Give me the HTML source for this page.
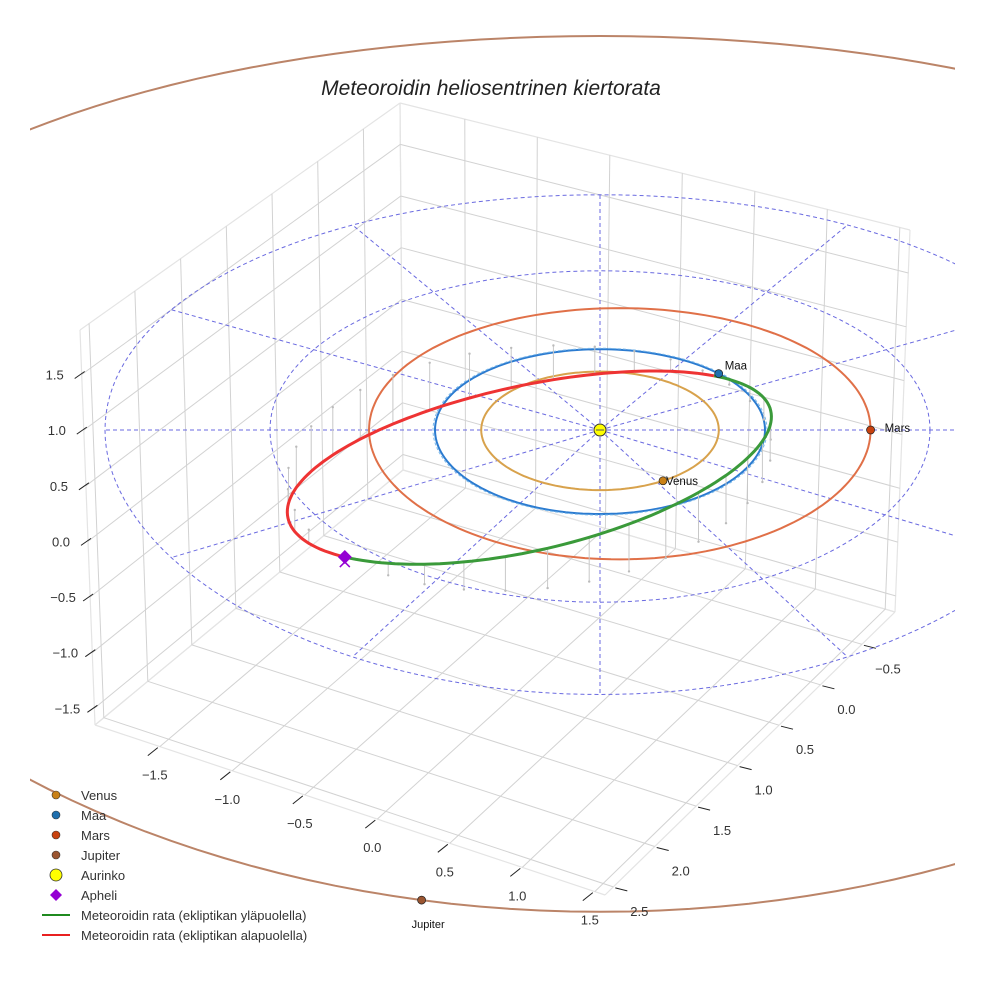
<!DOCTYPE html>
<html><head><meta charset="utf-8">
<style>
html,body{margin:0;padding:0;background:#fff;}
svg{display:block;font-family:"Liberation Sans",sans-serif;}
</style></head>
<body>
<svg id="chart" width="984" height="984" viewBox="0 0 984 984" xmlns="http://www.w3.org/2000/svg">
<defs><clipPath id="clipView"><rect x="30" y="0" width="925" height="984"/></clipPath></defs>
<rect width="984" height="984" fill="#fff"/>
<g id="box"></g>
<g id="ecl" clip-path="url(#clipView)"></g>
<g id="orbits"></g>
<g id="ticks"></g>
<text x="491" y="95" text-anchor="middle" font-size="21" font-style="italic" fill="#222">Meteoroidin heliosentrinen kiertorata</text>
<g id="legend"></g>
</svg>
<script>
// ---- data ----
const xTicks = [-1.5, -1.0, -0.5, 0.0, 0.5, 1.0, 1.5];
const yTicks = [-0.5, 0.0, 0.5, 1.0, 1.5, 2.0, 2.5];
const zTicks = [-1.5, -1.0, -0.5, 0.0, 0.5, 1.0, 1.5];
const planetNames = ["Venus", "Maa", "Mars", "Jupiter"];
const planetRadii = [0.72, 1.0, 1.52, 5.2];
const planetCenterOffsetX = [0.0, 0.0, 0.12, 0.0];
const planetAnglesDeg = [58, -44, 0, 102];
const planetColors = ["#c98118", "#1f6fae", "#c8420f", "#9b5530"];
const orbitColors = ["#d8a24c", "#2b7bd0", "#e07048", "#bb8468"];
const gridCircleRadii = [2, 3];
const gridRayAnglesDeg = [0, 30, 60, 90, 120, 150, 180, 210, 240, 270, 300, 330];
const meteorPerihelion = [0.96];
const meteorAphelion = [2.15];
const meteorInclinationDeg = [18];
const meteorPeriArgDeg = [-44];

// ---- axes limits ----
const xMin = -1.947, xMax = 1.57, yMin = -0.9, yMax = 2.6, zMin = -1.65, zMax = 1.9;

const NS = "http://www.w3.org/2000/svg";
function mk(parent, tag, attrs){const e=document.createElementNS(NS,tag);for(const k in attrs)e.setAttribute(k,attrs[k]);parent.appendChild(e);return e;}
function P(x,y,z){const f=y<0?1+0.0146*y:1+0.025*y;return [600+165*x, 430+82*y*f-111*z];}
function bil(q,s,t){return [(1-t)*((1-s)*q[0][0]+s*q[1][0])+t*((1-s)*q[3][0]+s*q[2][0]),(1-t)*((1-s)*q[0][1]+s*q[1][1])+t*((1-s)*q[3][1]+s*q[2][1])];}
const leftWall=[[80,330],[400,103],[403,470],[95,725]];
const rightWall=[[400,103],[910,230],[895,612],[403,470]];
const floorQ=[[403,470],[895,612],[605,895],[95,725]];
const sx=x=>(x-xMin)/(xMax-xMin), sy=y=>(y-yMin)/(yMax-yMin), tz=z=>(zMax-z)/(zMax-zMin);

const box=document.getElementById('box');
function seg(parent,a,b,col,w,name){const l=mk(parent,'line',{x1:a[0].toFixed(1),y1:a[1].toFixed(1),x2:b[0].toFixed(1),y2:b[1].toFixed(1),stroke:col,'stroke-width':w});


return l;}
[leftWall,rightWall,floorQ].forEach(q=>{for(let i=0;i<4;i++)seg(box,q[i],q[(i+1)%4],'#e4e4e4',1.2,'pane-edge');});
yTicks.forEach(y=>{const s=1-sy(y);seg(box,bil(leftWall,s,0),bil(leftWall,s,1),'#d2d2d2',1,'left-wall-gridline');seg(box,bil(floorQ,0,sy(y)),bil(floorQ,1,sy(y)),'#d2d2d2',1,'floor-gridline-y');});
zTicks.concat([2.0]).forEach(z=>{if(z>zMax)return;const t=tz(z);seg(box,bil(leftWall,0,t),bil(leftWall,1,t),'#d2d2d2',1,'left-wall-gridline-z');seg(box,bil(rightWall,0,t),bil(rightWall,1,t),'#d2d2d2',1,'right-wall-gridline-z');});
xTicks.forEach(x=>{const s=sx(x);seg(box,bil(rightWall,s,0),bil(rightWall,s,1),'#d2d2d2',1,'right-wall-gridline');seg(box,bil(floorQ,s,0),bil(floorQ,s,1),'#d2d2d2',1,'floor-gridline-x');});

const tk=document.getElementById('ticks');
function lab(x,y,txt,name){const t=mk(tk,'text',{x:x.toFixed(1),y:y.toFixed(1),'text-anchor':'middle','font-size':13,fill:'#333'});t.textContent=txt;

}
const fmt=v=>(v<0?'\u2212':'')+Math.abs(v).toFixed(1);
xTicks.forEach(x=>{const p=bil(floorQ,sx(x),1);seg(tk,[p[0]-2,p[1]+1],[p[0]-12,p[1]+9],'#222',1,'x-tick');lab(p[0]-5,p[1]+33,fmt(x),'x-tick-label');});
yTicks.forEach(y=>{const p=bil(floorQ,1,sy(y));seg(tk,[p[0]+2,p[1]+1],[p[0]+14,p[1]+4],'#222',1,'y-tick');lab(p[0]+26,p[1]+29,fmt(y),'y-tick-label');});
zTicks.forEach(z=>{const p=bil(leftWall,0,tz(z));seg(tk,[p[0]+3,p[1]-3],[p[0]-7,p[1]+4],'#222',1,'z-tick');lab(p[0]-27,p[1]+5,fmt(z),'z-tick-label');});

const ecl=document.getElementById('ecl');
function ringPath(r,z,cx){cx=cx||0;let d='';for(let k=0;k<=360;k+=2){const a=k*Math.PI/180;const p=P(cx+r*Math.cos(a),r*Math.sin(a),z||0);d+=(k?'L':'M')+p[0].toFixed(1)+' '+p[1].toFixed(1);}return d;}
gridCircleRadii.forEach(r=>{const e=mk(ecl,'path',{d:ringPath(r),fill:'none',stroke:'#6a6ae0','stroke-width':1,'stroke-dasharray':'4 3'});

});
gridRayAnglesDeg.forEach(g=>{const a=g*Math.PI/180;const c=P(0,0,0);
const rr=(g===0)?6:3.0;const q=P(rr*Math.cos(a),rr*Math.sin(a),0);
const e=mk(ecl,'line',{x1:c[0],y1:c[1],x2:q[0].toFixed(1),y2:q[1].toFixed(1),stroke:'#6a6ae0','stroke-width':1,'stroke-dasharray':'4 3'});

});
const jp=mk(ecl,'path',{d:ringPath(planetRadii[3],0,planetCenterOffsetX[3]),fill:'none',stroke:orbitColors[3],'stroke-width':2});



const orb=document.getElementById('orbits');
for(let i=0;i<3;i++){const e=mk(orb,'path',{d:ringPath(planetRadii[i],0,planetCenterOffsetX[i]),fill:'none',stroke:orbitColors[i],'stroke-width':2});

}
const ed=mk(orb,'path',{d:ringPath(planetRadii[1]*1.012),fill:'none',stroke:'#7ab8ea','stroke-width':1,'stroke-dasharray':'3 2'});



const q=meteorPerihelion[0],Q=meteorAphelion[0],a=(q+Q)/2,e=(Q-q)/(Q+q),b=Math.sqrt(q*Q);
const inc=meteorInclinationDeg[0]*Math.PI/180,w=meteorPeriArgDeg[0]*Math.PI/180;
const u=[Math.cos(w),Math.sin(w)],v=[-Math.sin(w),Math.cos(w)];
function M(E){const c=a*(Math.cos(E)-e),s=b*Math.sin(E);return [u[0]*c+v[0]*s*Math.cos(inc),u[1]*c+v[1]*s*Math.cos(inc),s*Math.sin(inc)];}
for(let k=6;k<360;k+=10){if(Math.abs(k-180)<8)continue;const E=k*Math.PI/180;const m=M(E);const p1=P(m[0],m[1],m[2]),p0=P(m[0],m[1],0);
seg(orb,p1,p0,'#c8c8c8',1,'ecliptic-stem');
const d=mk(orb,'circle',{cx:p0[0].toFixed(1),cy:p0[1].toFixed(1),r:1.2,fill:'#bbb'});

}
function mpath(k0,k1){let d='';for(let k=k0;k<=k1;k+=2){const m=M(k*Math.PI/180);const p=P(m[0],m[1],m[2]);d+=(k===k0?'M':'L')+p[0].toFixed(1)+' '+p[1].toFixed(1);}return d;}
const gp=mk(orb,'path',{d:mpath(0,180),fill:'none',stroke:'#3a9a3a','stroke-width':3});


const rp=mk(orb,'path',{d:mpath(180,360),fill:'none',stroke:'#ee3333','stroke-width':3});


const ap=M(Math.PI),pa=P(ap[0],ap[1],ap[2]);
const dm=mk(orb,'path',{d:`M${pa[0]} ${pa[1]-7}L${pa[0]+7} ${pa[1]}L${pa[0]} ${pa[1]+7}L${pa[0]-7} ${pa[1]}Z`,fill:'#9400d3'});


const xm=mk(orb,'path',{d:`M${pa[0]-5} ${pa[1]}L${pa[0]+5} ${pa[1]+10}M${pa[0]+5} ${pa[1]}L${pa[0]-5} ${pa[1]+10}`,stroke:'#9400d3','stroke-width':1.5});



const labOff=[[3,4],[6,-4],[14,2],[-10,28]];
for(let i=0;i<4;i++){const an=planetAnglesDeg[i]*Math.PI/180;const p=P(planetCenterOffsetX[i]+planetRadii[i]*Math.cos(an),planetRadii[i]*Math.sin(an),0);
const c=mk(orb,'circle',{cx:p[0].toFixed(1),cy:p[1].toFixed(1),r:4,fill:planetColors[i],stroke:'#222','stroke-width':0.7});


const t=mk(orb,'text',{x:(p[0]+labOff[i][0]).toFixed(1),y:(p[1]+labOff[i][1]).toFixed(1),'font-size':i===3?11:11.5,fill:'#111'});t.textContent=planetNames[i];

}
const sp=P(0,0,0);
const sun=mk(orb,'circle',{cx:sp[0],cy:sp[1],r:6,fill:'#ffff00',stroke:'#333','stroke-width':1});


seg(orb,[sp[0]-4,sp[1]],[sp[0]+4,sp[1]],'#555',1,'sun-cross');

const lg=document.getElementById('legend');
const legLabels=["Venus","Maa","Mars","Jupiter","Aurinko","Apheli","Meteoroidin rata (ekliptikan yläpuolella)","Meteoroidin rata (ekliptikan alapuolella)"];
legLabels.forEach((L,i)=>{const y=795+i*20;
let m;
if(i<4){m=mk(lg,'circle',{cx:56,cy:y,r:4,fill:planetColors[i],stroke:'#333','stroke-width':0.6});}
else if(i===4){m=mk(lg,'circle',{cx:56,cy:y,r:6,fill:'#ffff00',stroke:'#333','stroke-width':0.8});}
else if(i===5){m=mk(lg,'path',{d:`M56 ${y-6}L62 ${y}L56 ${y+6}L50 ${y}Z`,fill:'#9400d3'});}
else{m=mk(lg,'line',{x1:42,y1:y,x2:70,y2:y,stroke:i===6?'#1f8a1f':'#e82020','stroke-width':2});}


const t=mk(lg,'text',{x:81,y:y+5,'font-size':13,fill:'#333'});t.textContent=L;

});
</script>
</body></html>
